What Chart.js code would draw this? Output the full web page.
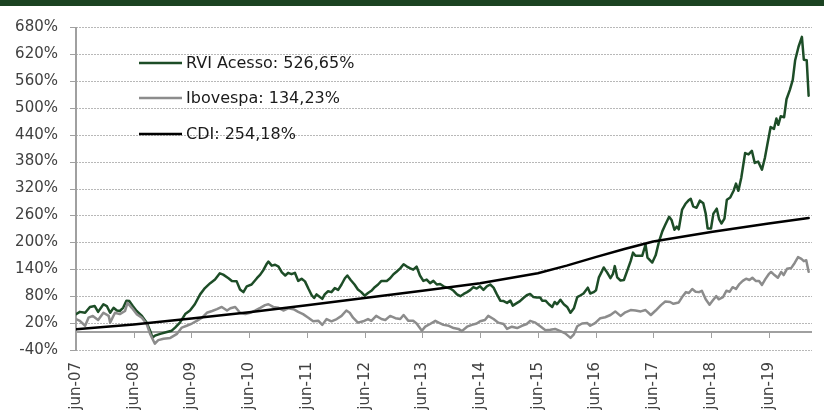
<!DOCTYPE html>
<html>
<head>
<meta charset="utf-8">
<script src="https://cdn.jsdelivr.net/npm/chart.js@4.4.1/dist/chart.umd.min.js"></script>
<style>
  html, body { margin: 0; padding: 0; background: #fff; }
  #wrap { position: relative; width: 824px; height: 414px; overflow: hidden; }
  #faixa { position: absolute; left: 0; top: 0; width: 824px; height: 6px; background: #1b4321; }
</style>
</head>
<body>
<div id="wrap">
  <canvas id="grafico"></canvas>
  <div id="faixa"></div>
</div>
<script>
// rentabilidade acumulada (%) - eixo x em meses desde jun-07

const nomesSeries = ['RVI Acesso: 526,65%', 'Ibovespa: 134,23%', 'CDI: 254,18%'];
const coresSeries = ['#1d4d27', '#8c8c8c', '#000000'];
const rotulosX = ['jun-07', 'jun-08', 'jun-09', 'jun-10', 'jun-11', 'jun-12', 'jun-13',
                  'jun-14', 'jun-15', 'jun-16', 'jun-17', 'jun-18', 'jun-19'];

const rviMeses = [
    0, 0.8, 1.9, 2.9, 3.9, 4.6, 5.7, 6.4, 7.1, 7.8,
    8.5, 9.1, 9.8, 10.5, 11.1, 11.8, 12.6, 13.7, 14.7, 15.4,
    15.9, 16.4, 17.5, 18.9, 19.9, 20.6, 21.6, 22.7, 23.7, 24.7,
    25.8, 26.8, 27.9, 28.9, 29.9, 30.6, 31.7, 32.4, 33.4, 34.1,
    34.8, 35.5, 36.5, 37.6, 38.3, 39, 39.7, 40, 40.7, 41.4,
    42.1, 42.8, 43.5, 44.1, 44.8, 45.5, 46.2, 46.9, 47.6, 48.3,
    49, 49.5, 50, 50.7, 51.2, 51.7, 52.4, 53.1, 53.8, 54.5,
    55.2, 55.9, 56.4, 57.1, 57.9, 58.6, 59.3, 60, 60.7, 61.4,
    62.1, 62.8, 63.5, 64.6, 65.3, 66, 66.7, 67.4, 68.1, 68.8,
    69.5, 70.1, 70.8, 71.5, 72.2, 72.9, 73.6, 74.3, 75, 75.7,
    76.4, 77.1, 77.8, 78.5, 79.2, 79.9, 80.6, 81.3, 82, 82.6,
    83.3, 84, 84.7, 85.4, 86.1, 86.8, 87.5, 88.2, 88.9, 89.6,
    90.3, 90.8, 91.7, 92.3, 93, 93.7, 94.4, 95.1, 95.8, 96.5,
    96.9, 97.6, 98.3, 99, 99.5, 100, 100.7, 101.4, 102.1, 102.8,
    103.5, 104.2, 104.9, 105.5, 106.4, 106.9, 107.6, 108.1, 108.7, 109.4,
    109.7, 110.4, 111.1, 111.6, 112, 112.5, 113.2, 113.9, 114.6, 115.3,
    115.8, 116.3, 117, 117.7, 118.4, 118.8, 119.8, 120.5, 121.2, 121.9,
    122.5, 123.3, 123.8, 124.4, 124.9, 125.3, 126, 126.7, 127.3, 127.8,
    128.3, 129, 129.7, 130.4, 130.9, 131.3, 132, 132.5, 133.2, 133.7,
    134.2, 134.8, 135.3, 136, 136.7, 137.2, 137.7, 138.3, 139.1, 139.8,
    140.5, 141.1, 141.8, 142.6, 143.2, 143.7, 144.4, 145.1, 145.6, 146,
    146.5, 147.2, 147.7, 148.4, 149, 149.5, 150.2, 150.9, 151.3, 151.9,
    152.3
];
const rviValores = [
    40, 45, 43, 56, 58, 45, 62, 58, 43, 54,
    48, 47, 54, 70, 69, 58, 47, 36, 21, 3,
    -12, -8, -4, 0, 3, 10, 21, 40, 48, 62,
    84, 98, 109, 117, 131, 128, 120, 114, 113, 95,
    89, 102, 106, 120, 128, 139, 153, 157, 148, 150,
    146, 133, 126, 132, 129, 132, 114, 119, 113, 97,
    82, 76, 84, 78, 74, 84, 91, 89, 98, 94,
    106, 120, 126, 116, 106, 95, 89, 81, 87, 92,
    100, 106, 114, 114, 120, 129, 135, 142, 151, 146,
    142, 139, 146, 126, 114, 117, 109, 114, 106, 107,
    102, 99, 97, 92, 84, 80, 85, 89, 94, 100,
    97, 102, 94, 102, 106, 99, 84, 70, 69, 65,
    70, 59, 65, 69, 76, 82, 85, 78, 77, 77,
    70, 70, 62, 56, 67, 62, 72, 62, 56, 43,
    53, 78, 82, 86, 99, 86, 89, 93, 122, 137,
    144, 133, 120, 129, 147, 122, 115, 116, 137, 158,
    177, 170, 170, 170, 195, 166, 155, 171, 202, 225,
    239, 257, 250, 228, 235, 229, 273, 286, 293, 297,
    280, 277, 293, 287, 264, 231, 231, 264, 275, 251,
    242, 253, 295, 300, 315, 331, 315, 344, 399, 396,
    404, 377, 380, 362, 388, 417, 457, 453, 476, 462,
    481, 479, 519, 540, 562, 606, 636, 658, 607, 606,
    526.65
];

const ibovMeses = [
    0, 0.8, 1.9, 2.6, 3.5, 4.6, 5.7, 6.8, 7.1, 8.1,
    9.1, 10.2, 10.7, 11.6, 12.6, 13.7, 14.7, 15.4, 16.4, 17.1,
    18.2, 19.6, 21, 22, 23, 24.1, 25.1, 26.2, 27.2, 28.3,
    29.3, 30.3, 31.4, 32.1, 33.1, 34.1, 35.2, 36.2, 37.2, 38.3,
    39.3, 40, 41, 42.1, 43.1, 44.1, 45.2, 46.2, 47.2, 48.3,
    49.3, 50.4, 51.2, 52.1, 53.1, 54.2, 55.2, 56.2, 56.9, 57.6,
    58.6, 59.7, 60.7, 61.4, 62.4, 63.5, 64.3, 65.3, 66.4, 67.4,
    68.1, 69.1, 70.1, 70.8, 71.9, 72.6, 73.6, 74.7, 75.4, 76.4,
    77.5, 78.5, 79.5, 80.2, 81.3, 82.3, 83.3, 84, 85, 85.7,
    86.8, 87.8, 88.9, 89.6, 90.6, 91.7, 92.7, 93.7, 94.4, 95.5,
    96.5, 97.6, 98.6, 99.6, 100.7, 101.7, 102.8, 103.5, 104.2, 105.2,
    106.3, 106.9, 107.9, 109, 110, 111.1, 112.1, 113.2, 114.2, 115.3,
    116.3, 117.4, 118.4, 119.5, 120.5, 121.6, 122.5, 123.5, 124.2, 125.3,
    126, 126.8, 127.4, 128.1, 128.8, 129.5, 130.1, 130.9, 131.7, 132.4,
    133.1, 133.6, 134.5, 135.2, 135.9, 136.5, 137.2, 137.9, 138.6, 139.3,
    140, 140.6, 141.3, 142, 142.6, 143.3, 144, 144.5, 145.2, 145.9,
    146.6, 147.1, 147.8, 148.7, 149.4, 150.1, 150.8, 151.3, 151.8, 152.3
];
const ibovValores = [
    29, 25, 14, 32, 36, 27, 43, 36, 21, 43,
    40, 47, 65, 54, 40, 32, 18, -4, -26, -18,
    -15, -13, -4, 10, 14, 19, 25, 32, 43, 47,
    51, 56, 48, 53, 56, 43, 40, 43, 48, 54,
    60, 62, 56, 54, 48, 53, 51, 45, 40, 32,
    24, 25, 16, 29, 24, 29, 36, 48, 43, 32,
    21, 24, 29, 25, 36, 29, 27, 36, 31, 29,
    38, 25, 25, 19, 3, 12, 18, 25, 21, 16,
    14, 9, 7, 2, 12, 16, 19, 24, 27, 36,
    29, 21, 18, 7, 12, 9, 14, 18, 25, 21,
    13, 4, 5, 7, 2, -3, -13, -5, 13, 19,
    20, 14, 20, 31, 33, 38, 46, 36, 44, 49,
    48, 46, 49, 38, 48, 60, 68, 67, 63, 66,
    78, 89, 87, 96, 90, 89, 92, 73, 61, 71,
    80, 73, 78, 92, 90, 100, 96, 107, 114, 119,
    116, 121, 114, 114, 105, 118, 129, 134, 127, 121,
    134, 127, 141, 143, 154, 167, 163, 158, 160, 134.23
];

const cdiMeses = [0, 12, 24, 36, 48, 60, 72, 84, 96, 102, 108, 114, 120, 132, 144, 152.3];
const cdiValores = [6, 17, 30, 44, 60, 76, 92, 109, 131, 148, 167, 185, 202, 223, 242, 254.18];

const fonte = 'DejaVu Sans';

function montarPontos(meses, valores) {
    return meses.map((m, i) => ({ x: m, y: valores[i] }));
}

// grade pontilhada, eixo vertical e linha do zero com as marcas dos anos
const eixos = {
    id: 'eixos',
    beforeDatasetsDraw(chart) {
        const { ctx, chartArea, scales: { x, y } } = chart;
        const esq = Math.round(chartArea.left);
        ctx.save();
        ctx.lineWidth = 1;
        y.ticks.forEach(t => {
            const py = Math.round(y.getPixelForValue(t.value)) + 0.5;
            ctx.strokeStyle = '#b8b8b8';
            ctx.setLineDash([2, 1]);
            ctx.beginPath();
            ctx.moveTo(esq, py);
            ctx.lineTo(chartArea.right, py);
            ctx.stroke();
            ctx.strokeStyle = '#a0a0a0';
            ctx.setLineDash([]);
            ctx.beginPath();
            ctx.moveTo(esq - 6, py);
            ctx.lineTo(esq, py);
            ctx.stroke();
        });

        const y0 = Math.round(y.getPixelForValue(0));
        ctx.strokeStyle = '#a0a0a0';
        ctx.setLineDash([]);
        ctx.lineWidth = 2;
        ctx.beginPath();
        ctx.moveTo(esq, y0);
        ctx.lineTo(chartArea.right, y0);
        ctx.moveTo(esq, Math.round(chartArea.top));
        ctx.lineTo(esq, Math.round(chartArea.bottom) + 1);
        ctx.stroke();

        ctx.lineWidth = 1;
        ctx.beginPath();
        x.ticks.forEach(t => {
            const px = Math.round(x.getPixelForValue(t.value)) + 0.5;
            ctx.moveTo(px, y0);
            ctx.lineTo(px, y0 + 6);
        });
        ctx.stroke();
        ctx.restore();
    }
};

// legenda dentro da area do grafico
const legendaInterna = {
    id: 'legendaInterna',
    afterDatasetsDraw(chart) {
        const { ctx, chartArea } = chart;
        const x1 = chartArea.left + 63;
        const x2 = chartArea.left + 106;
        const linhasY = [63, 98, 134];
        ctx.save();
        ctx.font = `16px "${fonte}"`;
        ctx.textBaseline = 'middle';
        ctx.textAlign = 'left';
        chart.data.datasets.forEach((ds, i) => {
            ctx.strokeStyle = ds.borderColor;
            ctx.lineWidth = 2.5;
            ctx.beginPath();
            ctx.moveTo(x1, linhasY[i]);
            ctx.lineTo(x2, linhasY[i]);
            ctx.stroke();
            ctx.fillStyle = '#1a1a1a';
            ctx.fillText(ds.label, x2 + 4, linhasY[i] + 1);
        });
        ctx.restore();
    }
};

const ctx = document.getElementById('grafico').getContext('2d');
new Chart(ctx, {
    type: 'line',
    data: {
        datasets: [
            { label: nomesSeries[0], data: montarPontos(rviMeses, rviValores), borderColor: coresSeries[0], borderWidth: 2.5, order: 3 },
            { label: nomesSeries[1], data: montarPontos(ibovMeses, ibovValores), borderColor: coresSeries[1], borderWidth: 2.5, order: 2 },
            { label: nomesSeries[2], data: montarPontos(cdiMeses, cdiValores), borderColor: coresSeries[2], borderWidth: 2.5, order: 1 }
        ]
    },
    options: {
        responsive: true,
        maintainAspectRatio: false,
        animation: false,
        layout: { padding: { top: 21, right: 12, left: 0, bottom: 0 } },
        elements: {
            point: { radius: 0 },
            line: { tension: 0, borderJoinStyle: 'round', borderCapStyle: 'round', fill: false }
        },
        plugins: {
            legend: { display: false },
            tooltip: { enabled: false }
        },
        scales: {
            x: {
                type: 'linear',
                min: 0,
                max: 153,
                afterFit: s => { s.height = 64; },
                afterBuildTicks: s => { s.ticks = rotulosX.map((_, i) => ({ value: i * 12 })); },
                grid: { display: false, drawTicks: false },
                border: { display: false },
                ticks: {
                    autoSkip: false,
                    minRotation: 90,
                    maxRotation: 90,
                    padding: 12,
                    color: '#404040',
                    font: { family: fonte, size: 15 },
                    callback: v => rotulosX[Math.round(v / 12)]
                }
            },
            y: {
                min: -40,
                max: 680,
                afterFit: s => { s.width = 76; },
                ticks: {
                    stepSize: 60,
                    padding: 18,
                    color: '#404040',
                    font: { family: fonte, size: 15 },
                    callback: v => v + '%'
                },
                grid: { display: false, drawTicks: false },
                border: { display: false }
            }
        }
    },
    plugins: [eixos, legendaInterna]
});
</script>
</body>
</html>
